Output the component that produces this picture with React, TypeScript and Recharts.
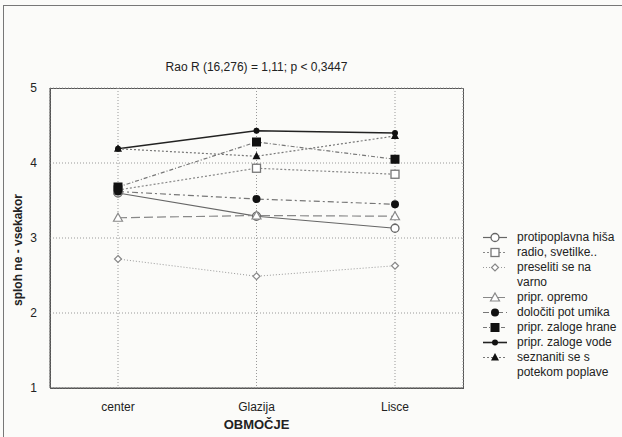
import React from 'react';
import {
  LineChart,
  Line,
  XAxis,
  YAxis,
  CartesianGrid,
  Legend,
  Label,
} from 'recharts';

document.body.style.margin = '0';

const REGIONS = ['center', 'Glazija', 'Lisce'];

const HISA = [3.6, 3.29, 3.13];
const RADIO = [3.64, 3.93, 3.85];
const PRESELITI = [2.72, 2.49, 2.63];
const OPREMO = [3.27, 3.3, 3.29];
const UMIKA = [3.62, 3.52, 3.45];
const HRANE = [3.68, 4.28, 4.05];
const VODE = [4.19, 4.43, 4.4];
const SEZNANITI = [4.19, 4.09, 4.36];

const Y_TICKS = [1, 2, 3, 4, 5];
const MINOR_TICKS = [1.25, 1.5, 1.75, 2.25, 2.5, 2.75, 3.25, 3.5, 3.75, 4.25, 4.5, 4.75];

const data = REGIONS.map((r, i) => ({
  region: r,
  hisa: HISA[i],
  radio: RADIO[i],
  preseliti: PRESELITI[i],
  opremo: OPREMO[i],
  umika: UMIKA[i],
  hrane: HRANE[i],
  vode: VODE[i],
  seznaniti: SEZNANITI[i],
}));

type Kind = 'circleOpen' | 'squareOpen' | 'diamondOpen' | 'triOpen' | 'circle' | 'square' | 'dot' | 'tri';

const SERIES: { key: string; name: string; color: string; dash?: string; width: number; marker: Kind }[] = [
  { key: 'hisa', name: 'protipoplavna hiša', color: '#666', width: 1.2, marker: 'circleOpen' },
  { key: 'radio', name: 'radio, svetilke..', color: '#888', dash: '2 2', width: 1.2, marker: 'squareOpen' },
  { key: 'preseliti', name: 'preseliti se na varno', color: '#999', dash: '1 2', width: 1, marker: 'diamondOpen' },
  { key: 'opremo', name: 'pripr. opremo', color: '#888', dash: '9 4', width: 1.2, marker: 'triOpen' },
  { key: 'umika', name: 'določiti pot umika', color: '#777', dash: '6 3 2 3', width: 1.2, marker: 'circle' },
  { key: 'hrane', name: 'pripr. zaloge hrane', color: '#777', dash: '4 2 1 2', width: 1.2, marker: 'square' },
  { key: 'vode', name: 'pripr. zaloge vode', color: '#222', width: 1.6, marker: 'dot' },
  { key: 'seznaniti', name: 'seznaniti se s potekom poplave', color: '#777', dash: '2 2', width: 1.2, marker: 'tri' },
];

const Marker = ({ kind, cx, cy }: { kind: Kind; cx: number; cy: number }) => {
  switch (kind) {
    case 'circleOpen':
      return <circle cx={cx} cy={cy} r={4} fill="#fff" stroke="#666" strokeWidth={1.3} />;
    case 'squareOpen':
      return <rect x={cx - 4} y={cy - 4} width={8} height={8} fill="#fff" stroke="#777" strokeWidth={1.3} />;
    case 'diamondOpen':
      return (
        <polygon
          points={`${cx},${cy - 3.5} ${cx + 3.5},${cy} ${cx},${cy + 3.5} ${cx - 3.5},${cy}`}
          fill="#fff"
          stroke="#888"
          strokeWidth={1.2}
        />
      );
    case 'triOpen':
      return (
        <polygon
          points={`${cx},${cy - 4.5} ${cx + 4.5},${cy + 3.5} ${cx - 4.5},${cy + 3.5}`}
          fill="#fff"
          stroke="#888"
          strokeWidth={1.2}
        />
      );
    case 'circle':
      return <circle cx={cx} cy={cy} r={4} fill="#111" />;
    case 'square':
      return <rect x={cx - 4.5} y={cy - 4.5} width={9} height={9} fill="#111" />;
    case 'dot':
      return <circle cx={cx} cy={cy} r={3} fill="#111" />;
    case 'tri':
      return <polygon points={`${cx},${cy - 4.5} ${cx + 4},${cy + 3} ${cx - 4},${cy + 3}`} fill="#111" />;
  }
  return null;
};

const LegendBox = () => (
  <div style={{ fontFamily: '"Liberation Sans", Arial, sans-serif', fontSize: 12, color: '#222', lineHeight: '15px' }}>
    {SERIES.map((s) => (
      <div key={s.key} style={{ display: 'flex', alignItems: 'flex-start' }}>
        <svg width={24} height={15} style={{ flex: 'none' }}>
          <line x1={0} y1={7.5} x2={24} y2={7.5} stroke={s.color} strokeWidth={s.width} strokeDasharray={s.dash} />
          <Marker kind={s.marker} cx={12} cy={7.5} />
        </svg>
        <span style={{ marginLeft: 10, width: 105 }}>{s.name}</span>
      </div>
    ))}
  </div>
);

const YLabel = (props: any) => {
  const { viewBox } = props;
  const x = viewBox.x + 22;
  const y = viewBox.y + viewBox.height / 2 + 12;
  return (
    <text
      x={x}
      y={y}
      transform={`rotate(-90, ${x}, ${y})`}
      textAnchor="middle"
      fontSize={12}
      fontWeight="bold"
      fill="#222"
      fontFamily='"Liberation Sans", Arial, sans-serif'
    >
      sploh ne - vsekakor
    </text>
  );
};

const blank = () => '';

const App: React.FC = () => {
  return (
    <div
      style={{
        position: 'relative',
        width: 622,
        height: 437,
        background: '#fbfbf9',
        fontFamily: '"Liberation Sans", Arial, sans-serif',
      }}
    >
      <div
        style={{
          position: 'absolute',
          left: 3,
          top: 5,
          right: 0,
          bottom: 0,
          borderTop: '1px solid #777',
          borderLeft: '1px solid #777',
        }}
      />
      <div
        style={{
          position: 'absolute',
          left: 50,
          width: 413,
          top: 60,
          textAlign: 'center',
          fontSize: 12,
          color: '#222',
        }}
      >
        Rao R (16,276) = 1,11; p &lt; 0,3447
      </div>
      {/* plot frame */}
      <div
        style={{
          position: 'absolute',
          left: 50,
          top: 88,
          width: 412,
          height: 299,
          border: '1px solid #555',
          boxSizing: 'content-box',
          marginLeft: -0.5,
          marginTop: -0.5,
        }}
      />
      <LineChart
        width={622}
        height={437}
        data={data}
        margin={{ top: 88, right: 159, left: 0, bottom: 0 }}
        style={{ position: 'absolute', left: 0, top: 0 }}
      >
        <CartesianGrid stroke="#999" strokeDasharray="1 2" />
        <XAxis
          dataKey="region"
          height={49}
          padding={{ left: 68, right: 68 }}
          stroke="#555"
          tickLine={false}
          tick={{ fontSize: 12, fill: '#222' }}
          tickMargin={8}
        >
          <Label
            value="OBMOČJE"
            position="insideBottom"
            offset={8}
            style={{ fontSize: 13, fontWeight: 'bold', fill: '#222' }}
          />
        </XAxis>
        <YAxis
          width={50}
          domain={[1, 5]}
          ticks={Y_TICKS}
          stroke="#555"
          tickLine={false}
          tickMargin={7}
          tick={{ fontSize: 12, fill: '#222' }}
          label={<YLabel />}
        />
        <YAxis
          yAxisId="minorR"
          orientation="right"
          width={1}
          domain={[1, 5]}
          ticks={[...MINOR_TICKS, ...Y_TICKS]}
          mirror
          tickFormatter={blank}
          tickSize={3}
          tickLine={{ stroke: '#777' }}
          axisLine={false}
        />
        <YAxis
          yAxisId="minorL"
          width={1}
          domain={[1, 5]}
          ticks={MINOR_TICKS}
          mirror
          tickFormatter={blank}
          tickSize={3}
          tickLine={{ stroke: '#777' }}
          axisLine={false}
        />
        {SERIES.map((s) => (
          <Line
            key={s.key}
            dataKey={s.key}
            name={s.name}
            type="linear"
            stroke={s.color}
            strokeWidth={s.width}
            strokeDasharray={s.dash}
            isAnimationActive={false}
            dot={(p: any) => <Marker key={`${s.key}-${p.index}`} kind={s.marker} cx={p.cx} cy={p.cy} />}
            activeDot={false}
          />
        ))}
        <Legend
          layout="vertical"
          align="center"
          verticalAlign="middle"
          content={() => <LegendBox />}
          wrapperStyle={{ left: 483, top: 230, width: 140 }}
        />
      </LineChart>
    </div>
  );
};

export default App;
